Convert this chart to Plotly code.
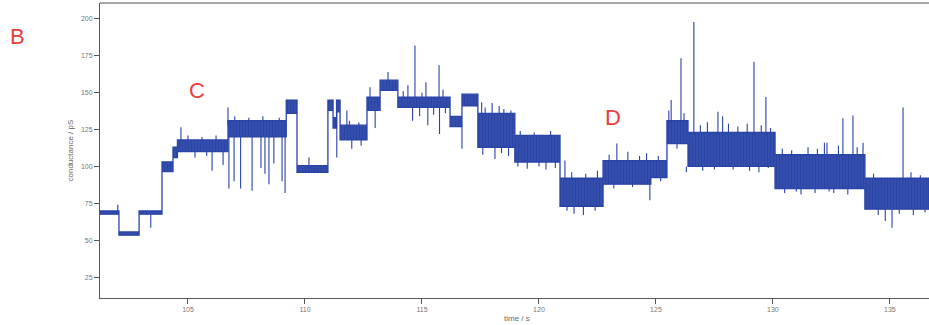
import plotly.graph_objects as go

# Level segments of the conductance trace (time / s, band top / pS, band bottom / pS)
seg_start = [101.24, 102.05, 102.91, 103.89, 104.36, 104.55, 106.71, 109.20, 109.66, 110.98,
             111.20, 111.35, 111.50, 112.65, 113.21, 113.97, 116.20, 116.71, 117.39, 118.97,
             120.90, 122.74, 124.78, 125.47, 126.37, 130.09, 133.93]
seg_end = [102.05, 102.91, 103.89, 104.36, 104.55, 106.71, 109.20, 109.66, 110.98, 111.20,
           111.35, 111.50, 112.65, 113.21, 113.97, 116.20, 116.71, 117.39, 118.97, 120.90,
           122.74, 124.78, 125.47, 126.37, 130.09, 133.93, 136.67]
seg_hi = [69.8, 55.6, 69.8, 103, 113, 118, 131, 145, 100.5, 145,
          133, 145, 128, 147, 158.5, 147, 134, 149, 136, 121,
          92, 104, 104, 131, 123, 108, 92]
seg_lo = [67.6, 53.4, 67.6, 96.5, 106, 110, 120, 136, 96, 138,
          126, 137, 118, 138, 151.5, 140, 127, 141, 113, 103,
          73, 88, 92.5, 115.5, 100, 85, 71]

# Spikes and noise excursions: time, start level, end level
spike_t = [102.00, 104.70, 106.71, 110.17, 111.79, 112.78, 113.55, 114.40, 114.70, 115.17,
           115.73, 117.55, 118.00, 118.30, 121.11, 123.33, 125.65, 126.07, 126.62, 127.65,
           127.85, 129.19, 129.70, 132.31, 132.99, 133.42, 133.85, 135.56,
           103.41, 106.03, 106.50, 106.75, 106.97, 107.25, 107.74, 108.12, 108.29, 108.46,
           108.67, 109.02, 109.15, 111.36, 112.00, 113.00, 114.60, 115.25, 115.75, 116.71,
           118.12, 119.50, 120.30, 121.50, 121.90, 124.74, 126.30, 129.00, 131.20, 132.60,
           134.80, 135.09,
           117.70, 118.50, 118.80, 117.60, 118.40, 118.70,
           119.20, 119.80, 120.50, 119.10, 120.00, 120.70,
           121.40, 122.00, 122.50, 121.20, 122.40,
           123.00, 123.80, 124.30, 124.60, 123.20, 124.00,
           125.10, 125.20, 125.55, 126.20, 125.90,
           126.90, 127.20, 128.10, 128.50, 128.90, 129.50, 129.90,
           127.00, 127.50, 128.30, 129.40, 129.80,
           130.40, 130.80, 131.50, 131.90, 132.20, 132.80, 133.60,
           130.50, 131.00, 131.80, 132.40, 133.20, 133.70,
           134.30, 135.90, 136.30, 134.50, 135.40, 136.00, 136.50,
           114.20, 115.00, 115.90, 114.90, 115.50, 116.00,
           105.00, 105.60, 106.20, 105.30, 105.80,
           107.00, 107.60, 108.20, 108.90,
           111.90, 112.30, 112.40]
spike_from = [69, 117, 128, 100, 127, 146, 157, 146, 146, 146,
              146, 135, 135, 135, 91, 103, 130, 130, 121, 121,
              121, 121, 121, 108, 108, 108, 108, 91,
              68, 110, 110, 120, 120, 120, 120, 120, 120, 120,
              120, 120, 120, 137, 118, 138, 140, 140, 140, 127,
              113, 103, 103, 73, 73, 92, 100, 100, 85, 85,
              71, 71,
              136, 136, 136, 113, 113, 113,
              121, 121, 121, 103, 103, 103,
              92, 92, 92, 73, 73,
              104, 104, 104, 104, 88, 88,
              104, 92.5, 131, 131, 115.5,
              123, 123, 123, 123, 123, 123, 123,
              100, 100, 100, 100, 100,
              108, 108, 108, 108, 108, 108, 108,
              85, 85, 85, 85, 85, 85,
              92, 92, 92, 71, 71, 71, 71,
              147, 147, 147, 140, 140, 140,
              118, 118, 118, 110, 110,
              131, 131, 131, 131,
              128, 128, 118]
spike_to = [74, 126.5, 140, 106, 138, 153.7, 164, 155, 182, 157,
            168.6, 143.5, 143, 141, 104, 115.5, 145, 173.4, 198, 137,
            134, 171, 147, 116, 132.6, 134.6, 116, 140,
            58.5, 97, 101, 85, 90, 85, 83.5, 99, 95, 88,
            102, 90, 82, 106, 112, 126, 131, 128, 122, 112,
            105, 98.5, 98, 68, 67, 77, 96, 97, 81, 82,
            63, 58.5,
            140, 139, 138, 108, 109, 107,
            124, 123, 124, 100, 100, 99,
            96, 95, 97, 70, 70,
            108, 110, 107, 109, 85, 86,
            107, 90, 138, 136, 112,
            128, 130, 129, 127, 129, 128, 126,
            97, 98, 98, 96, 99,
            112, 111, 113, 112, 116, 114, 113,
            82, 83, 82, 83, 81, 86,
            95, 96, 94, 67, 68, 67, 69,
            151, 150, 152, 134, 135, 136,
            121, 120, 121, 106, 107,
            134, 133, 134, 133,
            131, 130, 114]

x_ticks = [105, 110, 115, 120, 125, 130, 135]
y_ticks = [25, 50, 75, 100, 125, 150, 175, 200]

TRACE = "#2a43a6"
RED = "#e8403a"

# band polygon: upper edge forward, lower edge backward
up_x, up_y, lo_x, lo_y = [], [], [], []
for s, e, h, l in zip(seg_start, seg_end, seg_hi, seg_lo):
    up_x += [s, e]
    up_y += [h, h]
    lo_x += [s, e]
    lo_y += [l, l]
poly_x = up_x + lo_x[::-1]
poly_y = up_y + lo_y[::-1]

sx, sy = [], []
for t, a, b in zip(spike_t, spike_from, spike_to):
    sx += [t, t, None]
    sy += [a, b, None]

fig = go.Figure()
fig.add_trace(go.Scatter(x=poly_x, y=poly_y, mode="lines", fill="toself",
                         fillcolor="#2f48a9",
                         fillpattern=dict(shape="|", size=3, solidity=0.45,
                                          fgcolor="#223896", bgcolor="#3650b0"),
                         line=dict(color=TRACE, width=1.3),
                         hoverinfo="skip", showlegend=False))
fig.add_trace(go.Scatter(x=sx, y=sy, mode="lines",
                         line=dict(color=TRACE, width=1.1),
                         hoverinfo="skip", showlegend=False))

fig.update_layout(
    width=929, height=325,
    margin=dict(l=100, r=0, t=3, b=27, autoexpand=False),
    paper_bgcolor="white", plot_bgcolor="white",
    font=dict(family="Liberation Sans, Arial, sans-serif", color="#666"),
    xaxis=dict(range=[101.24, 136.67], tickvals=x_ticks, ticktext=[str(v) for v in x_ticks],
               showgrid=False, zeroline=False, showline=True, linecolor="#555", linewidth=1,
               ticks="outside", ticklen=5, tickcolor="#555", tickfont=dict(size=7, color="#777"),
               automargin=False),
    yaxis=dict(range=[10.8, 210.8], tickvals=y_ticks, ticktext=[str(v) for v in y_ticks],
               showgrid=False, zeroline=False, showline=True, linecolor="#555", linewidth=1,
               ticks="outside", ticklen=5, tickcolor="#555", tickfont=dict(size=7, color="#777"),
               automargin=False),
    shapes=[dict(type="line", xref="paper", yref="paper", x0=0, x1=1, y0=1, y1=1,
                 line=dict(color="#888", width=1.5))],
    annotations=[
        dict(text="time / s", xref="paper", yref="paper", x=(517-100)/829, y=(298-318)/295,
             xanchor="center", yanchor="middle", showarrow=False, font=dict(size=8, color="#666")),
        dict(text="conductance / pS", xref="paper", yref="paper", x=(70-100)/829, y=0.5,
             xanchor="center", yanchor="middle", textangle=-90, showarrow=False,
             font=dict(size=8, color="#666")),
        dict(text="B", xref="paper", yref="paper", x=(17-100)/829, y=(298-37)/295, xanchor="center",
             yanchor="middle", showarrow=False, font=dict(size=22, color=RED, family="Liberation Sans")),
        dict(text="C", xref="paper", yref="paper", x=(197-100)/829, y=(298-90)/295, xanchor="center",
             yanchor="middle", showarrow=False, font=dict(size=22, color=RED, family="Liberation Sans")),
        dict(text="D", xref="paper", yref="paper", x=(613-100)/829, y=(298-118)/295, xanchor="center",
             yanchor="middle", showarrow=False, font=dict(size=22, color=RED, family="Liberation Sans")),
    ],
)

fig.write_html("out.html", config={"displayModeBar": False},
               post_script="document.body.style.margin='0px';document.body.style.overflow='hidden';")
